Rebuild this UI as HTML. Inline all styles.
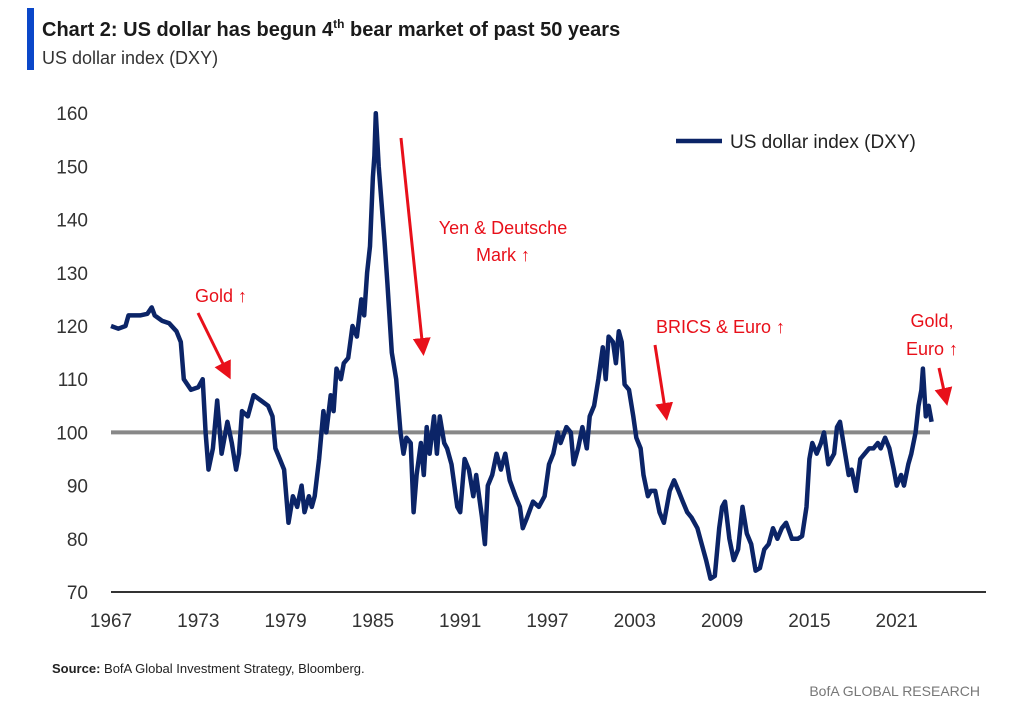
<!DOCTYPE html>
<html><head><meta charset="utf-8"><style>
body{margin:0;background:#fff;width:1024px;height:704px;overflow:hidden;font-family:"Liberation Sans",sans-serif}
svg text{font-family:"Liberation Sans",sans-serif}
</style></head><body>
<svg width="1024" height="704">
<defs><marker id="ah" markerWidth="6" markerHeight="6" refX="4" refY="3" orient="auto" markerUnits="strokeWidth"><path d="M0,0 L6,3 L0,6 Z" fill="#e8101a"/></marker></defs>
<rect x="27" y="8" width="7" height="62" fill="#0a47c9"/>
<text x="42" y="36" font-size="20" font-weight="bold" fill="#1a1a1a">Chart 2: US dollar has begun 4<tspan font-size="12" dy="-8">th</tspan><tspan dy="8"> bear market of past 50 years</tspan></text>
<text x="42" y="64" font-size="18" fill="#333">US dollar index (DXY)</text>
<g id="yt"></g>
<g id="xt"></g>
<line x1="111" y1="592" x2="986" y2="592" stroke="#333" stroke-width="2"/>
<line id="ref" x1="111" x2="930" stroke="#888" stroke-width="4"/>
<path id="ser" fill="none" stroke="#0b2467" stroke-width="4.5" stroke-linejoin="round"/>
<line x1="676" y1="141" x2="722" y2="141" stroke="#0b2467" stroke-width="4.5"/>
<text x="730" y="148" font-size="19" fill="#222">US dollar index (DXY)</text>
<g fill="#e8101a" font-size="18">
<text x="195" y="302">Gold ↑</text>
<text x="503" y="234" text-anchor="middle">Yen &amp; Deutsche</text>
<text x="503" y="261" text-anchor="middle">Mark ↑</text>
<text x="656" y="333">BRICS &amp; Euro ↑</text>
<text x="932" y="327" text-anchor="middle">Gold,</text>
<text x="932" y="355" text-anchor="middle">Euro ↑</text>
</g>
<g stroke="#e8101a" stroke-width="3" marker-end="url(#ah)">
<line x1="198" y1="313" x2="228" y2="374"/>
<line x1="401" y1="138" x2="423" y2="350"/>
<line x1="655" y1="345" x2="666" y2="415"/>
<line x1="939" y1="368" x2="946" y2="400"/>
</g>
<text x="52" y="673" font-size="13" fill="#222"><tspan font-weight="bold">Source:</tspan>  BofA Global Investment Strategy, Bloomberg.</text>
<text x="980" y="696" font-size="14" fill="#777" text-anchor="end">BofA GLOBAL RESEARCH</text>
</svg>
<script>
const yTicks=[70,80,90,100,110,120,130,140,150,160];
const xTicks=[1967,1973,1979,1985,1991,1997,2003,2009,2015,2021];
const years=[1967,1967.5,1968,1968.2,1969,1969.5,1969.8,1970,1970.5,1971,1971.5,1971.8,1972,1972.5,1973,1973.3,1973.5,1973.7,1974,1974.3,1974.6,1975,1975.3,1975.6,1975.8,1976,1976.4,1976.8,1977.3,1977.8,1978.1,1978.3,1978.6,1978.9,1979.2,1979.5,1979.8,1980.1,1980.3,1980.6,1980.8,1981,1981.3,1981.6,1981.8,1982.1,1982.3,1982.5,1982.8,1983,1983.3,1983.6,1983.9,1984.2,1984.4,1984.6,1984.8,1985,1985.1,1985.2,1985.4,1985.6,1985.8,1986,1986.3,1986.6,1986.9,1987.1,1987.3,1987.6,1987.8,1988,1988.3,1988.5,1988.7,1988.9,1989.2,1989.4,1989.6,1989.9,1990.1,1990.4,1990.8,1991,1991.3,1991.6,1991.9,1992.1,1992.5,1992.7,1992.9,1993.2,1993.5,1993.8,1994.1,1994.4,1994.8,1995.1,1995.3,1995.6,1996,1996.4,1996.8,1997.1,1997.4,1997.7,1997.9,1998.3,1998.6,1998.8,1999.1,1999.4,1999.7,1999.9,2000.2,2000.5,2000.8,2001,2001.2,2001.5,2001.7,2001.9,2002.1,2002.3,2002.6,2002.9,2003.1,2003.4,2003.6,2003.9,2004.1,2004.4,2004.7,2005,2005.4,2005.7,2006,2006.3,2006.6,2006.9,2007.3,2007.6,2007.9,2008.2,2008.5,2008.8,2009,2009.2,2009.5,2009.8,2010.1,2010.4,2010.7,2011,2011.3,2011.6,2011.9,2012.2,2012.5,2012.8,2013.1,2013.4,2013.8,2014.2,2014.5,2014.8,2015,2015.2,2015.5,2015.8,2016,2016.3,2016.7,2016.9,2017.1,2017.4,2017.7,2017.9,2018.2,2018.5,2018.8,2019.1,2019.4,2019.7,2019.9,2020.2,2020.5,2020.8,2021,2021.3,2021.5,2021.8,2022,2022.3,2022.5,2022.7,2022.8,2023,2023.2,2023.4];
const dxy=[120,119.5,120,122,122,122.3,123.5,122,121,120.5,119,117,110,108,108.5,110,100,93,97,106,96,102,98,93,96,104,103,107,106,105,103,97,95,93,83,88,86,90,85,88,86,88,95,104,100,107,104,112,110,113,114,120,118,125,122,130,135,148,152,160,150,143,136,128,115,110,100,96,99,98,85,92,98,92,101,96,103,96,103,98,97,94,86,85,95,93,88,92,84,79,90,92,96,93,96,91,88,86,82,84,87,86,88,94,96,100,98,101,100,94,97,101,97,103,105,110,116,110,118,117,113,119,117,109,108,103,99,97,92,88,89,89,85,83,89,91,89,87,85,84,82,79,76,72.5,73,82,86,87,80,76,78,86,81,79,74,74.5,78,79,82,80,82,83,80,80,80.5,86,95,98,96,98,100,94,96,101,102,97,92,93,89,95,96,97,97,98,97,99,97,93,90,92,90,94,96,100,105,108,112,103,105,102];
const refLevel=100;
const X=yr=>111+(yr-1967)*14.55;
const Y=v=>592-(v-70)*5.32;
const NS='http://www.w3.org/2000/svg';
const yt=document.getElementById('yt'),xt=document.getElementById('xt');
yTicks.forEach(v=>{const t=document.createElementNS(NS,'text');


t.setAttribute('x',88);t.setAttribute('y',Y(v)+7);t.setAttribute('text-anchor','end');t.setAttribute('font-size','19');t.setAttribute('fill','#333');t.textContent=v;yt.appendChild(t);});
xTicks.forEach(v=>{const t=document.createElementNS(NS,'text');


t.setAttribute('x',X(v));t.setAttribute('y',627);t.setAttribute('text-anchor','middle');t.setAttribute('font-size','19');t.setAttribute('fill','#333');t.textContent=v;xt.appendChild(t);});
const r=document.getElementById('ref');r.setAttribute('y1',Y(refLevel));r.setAttribute('y2',Y(refLevel));
document.getElementById('ser').setAttribute('d',years.map((yr,i)=>(i?'L':'M')+X(yr).toFixed(1)+','+Y(dxy[i]).toFixed(1)).join(''));
</script>
</body></html>
